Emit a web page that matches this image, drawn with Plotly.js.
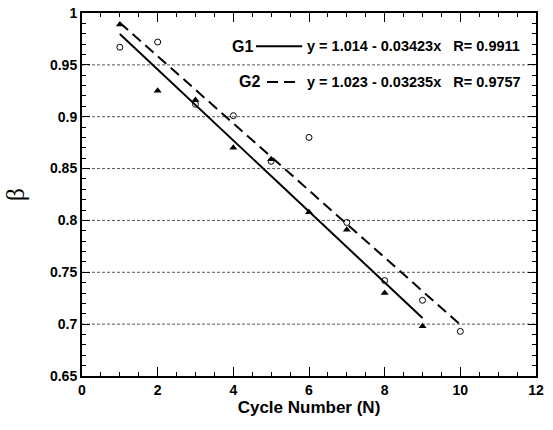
<!DOCTYPE html>
<html>
<head>
<meta charset="utf-8">
<script src="https://cdn.plot.ly/plotly-3.0.1.min.js"></script>
<style>html,body{margin:0;padding:0;background:#fff;}#chart{width:553px;height:430px;}</style>
</head>
<body>
<div id="chart"></div>
<script>
// Data
const cycles = [1, 2, 3, 4, 5, 6, 7, 8, 9, 10];
const g1Cycles = [1, 2, 3, 4, 5, 6, 7, 8, 9];
const g1Beta = [0.989, 0.925, 0.916, 0.870, 0.859, 0.808, 0.791, 0.730, 0.698];
const g2Beta = [0.967, 0.972, 0.912, 0.901, 0.857, 0.880, 0.798, 0.742, 0.723, 0.693];
// Fit lines (from the equations in the legend)
const g1FitX = [1, 9];
const g1FitY = [0.9798, 0.7059];
const g2FitX = [1, 10];
const g2FitY = [0.9907, 0.6995];
const legendLabels = ['G1', 'G2'];
const legendEquations = ['y = 1.014 - 0.03423x   R= 0.9911', 'y = 1.023 - 0.03235x   R= 0.9757'];
const xTickVals = [0, 2, 4, 6, 8, 10, 12];
const xTickText = ['0', '2', '4', '6', '8', '10', '12'];
const yTickVals = [0.65, 0.7, 0.75, 0.8, 0.85, 0.9, 0.95, 1];
const yTickText = ['0.65', '0.7', '0.75', '0.8', '0.85', '0.9', '0.95', '1'];
const gridValues = [0.7, 0.75, 0.8, 0.85, 0.9, 0.95];

const FONT = 'Arial, "Liberation Sans", sans-serif';

const traces = [
  {x: g1FitX, y: g1FitY, mode: 'lines', line: {color: '#000', width: 2}, hoverinfo: 'skip', showlegend: false},
  {x: g2FitX, y: g2FitY, mode: 'lines', line: {color: '#000', width: 2, dash: '11px,6px'}, hoverinfo: 'skip', showlegend: false},
  {x: g1Cycles, y: g1Beta, mode: 'markers', marker: {symbol: 'triangle-up', size: 7, color: '#000'}, showlegend: false},
  {x: cycles, y: g2Beta, mode: 'markers', marker: {symbol: 'circle-open', size: 6, color: '#000', line: {width: 1, color: '#000'}}, showlegend: false}
];

const shapes = gridValues.map(v => ({
  type: 'line', xref: 'paper', yref: 'y', x0: 0, x1: 1, y0: v, y1: v,
  line: {color: '#555', width: 1, dash: '3px,2px'}, layer: 'below'
}));
// legend line samples
shapes.push({type: 'line', xref: 'x', yref: 'y', x0: 4.6, x1: 5.82, y0: 0.968, y1: 0.968, line: {color: '#000', width: 2}});
shapes.push({type: 'line', xref: 'x', yref: 'y', x0: 4.89, x1: 5.78, y0: 0.9335, y1: 0.9335, line: {color: '#000', width: 2, dash: '11px,6px'}});

const rowY = [0.968, 0.9335];
const labelX = [4.23, 4.44];
const annotations = [];
legendLabels.forEach((lab, i) => {
  annotations.push({x: labelX[i], y: rowY[i], xref: 'x', yref: 'y', text: '<b>' + lab + '</b>', showarrow: false,
    font: {family: FONT, size: 16, color: '#000'}, xanchor: 'center', yanchor: 'middle'});
  annotations.push({x: 5.9, y: rowY[i], xref: 'x', yref: 'y', text: '<b>' + legendEquations[i].replace(/ /g, '&nbsp;') + '</b>', showarrow: false,
    font: {family: FONT, size: 14.5, color: '#000'}, xanchor: 'left', yanchor: 'middle'});
});

const layout = {
  width: 553, height: 430,
  margin: {l: 82, r: 17, t: 13, b: 54},
  paper_bgcolor: '#fff', plot_bgcolor: '#fff',
  font: {family: FONT, color: '#000'},
  xaxis: {
    range: [0, 12], tickmode: 'array', tickvals: xTickVals, ticktext: xTickText.map(t => '<b>' + t + '</b>'),
    ticks: 'inside', ticklen: 9, tickwidth: 1, tickcolor: '#000',
    showgrid: false, zeroline: false, showline: true, linewidth: 2, linecolor: '#000', mirror: 'ticks',
    minor: {dtick: 0.5, tick0: 0, ticks: 'inside', ticklen: 4, tickcolor: '#000', showgrid: false},
    tickfont: {family: FONT, size: 14, color: '#000'},
    title: {text: '<b>Cycle Number (N)</b>', font: {family: FONT, size: 17, color: '#000'}, standoff: 4}
  },
  yaxis: {
    range: [0.65, 1], tickmode: 'array', tickvals: yTickVals, ticktext: yTickText.map(t => '<b>' + t + '</b>'),
    ticks: 'inside', ticklen: 8, tickwidth: 1, tickcolor: '#000',
    showgrid: false, zeroline: false, showline: true, linewidth: 2, linecolor: '#000', mirror: 'ticks',
    minor: {dtick: 0.01, tick0: 0.65, ticks: 'inside', ticklen: 4, tickcolor: '#000', showgrid: false},
    tickfont: {family: FONT, size: 14, color: '#000'},
    title: {text: 'β', font: {family: '"Liberation Serif", "Times New Roman", serif', size: 26, color: '#000'}, standoff: 18}
  },
  shapes: shapes,
  annotations: annotations,
  showlegend: false
};

Plotly.newPlot('chart', traces, layout, {displayModeBar: false, staticPlot: true});
</script>
</body>
</html>
